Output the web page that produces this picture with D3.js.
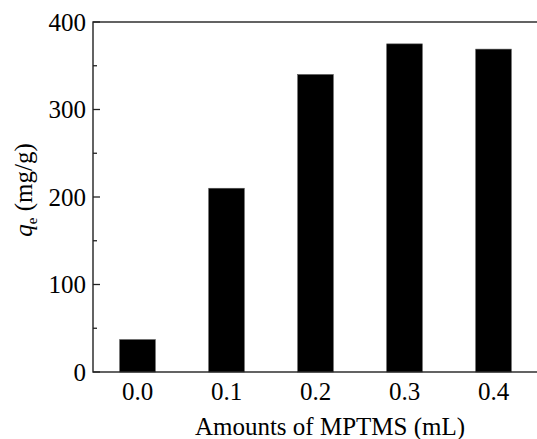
<!DOCTYPE html>
<html>
<head>
<meta charset="utf-8">
<script src="https://cdn.jsdelivr.net/npm/d3@7"></script>
<style>
  body { margin: 0; background: #fff; }
  svg { display: block; }
  text { font-family: "Liberation Serif", "Times New Roman", serif; fill: #000; }
</style>
</head>
<body>
<div id="chart"></div>
<script>
// data
var amounts = [0.0, 0.1, 0.2, 0.3, 0.4];
var qe = [37, 210, 340, 375, 369];
var xTicks = [0.0, 0.1, 0.2, 0.3, 0.4];
var yTicks = [0, 100, 200, 300, 400];
var yMinor = [50, 150, 250, 350];

var W = 537, H = 439;
var margin = {top: 22, left: 93, bottom: 67};
var plotW = 445, plotH = H - margin.top - margin.bottom;

var svg = d3.select("#chart").append("svg")
    .attr("width", W)
    .attr("height", H);

var g = svg.append("g")
    .attr("transform", "translate(" + margin.left + "," + margin.top + ")");

var x = d3.scaleLinear().domain([-0.05, 0.45]).range([0, plotW]);
var y = d3.scaleLinear().domain([0, 400]).range([plotH, 0]);
var barW = x(0.04) - x(0);

// bars
g.selectAll("rect.bar")
    .data(amounts)
    .enter().append("rect")
    .attr("class", "bar")
    .attr("x", function(d) { return x(d) - barW / 2; })
    .attr("width", barW)
    .attr("y", function(d, i) { return y(qe[i]); })
    .attr("height", function(d, i) { return plotH - y(qe[i]); })
    .attr("fill", "#000")
    .attr("stroke", "#555")
    .attr("stroke-width", 0.6);

// frame (right side falls just outside the picture)
g.append("rect")
    .attr("x", 0).attr("y", 0)
    .attr("width", plotW).attr("height", plotH)
    .attr("fill", "none")
    .attr("stroke", "#222")
    .attr("stroke-width", 1.4);

// y axis ticks (inward)
g.selectAll("line.ymaj")
    .data(yTicks)
    .enter().append("line")
    .attr("x1", 0).attr("x2", 7)
    .attr("y1", function(d) { return y(d); })
    .attr("y2", function(d) { return y(d); })
    .attr("stroke", "#222").attr("stroke-width", 1.3);

g.selectAll("line.ymin")
    .data(yMinor)
    .enter().append("line")
    .attr("x1", 0).attr("x2", 4)
    .attr("y1", function(d) { return y(d); })
    .attr("y2", function(d) { return y(d); })
    .attr("stroke", "#222").attr("stroke-width", 1.3);

g.selectAll("text.ylab")
    .data(yTicks)
    .enter().append("text")
    .attr("x", -7)
    .attr("y", function(d) { return y(d); })
    .attr("dy", "0.34em")
    .attr("text-anchor", "end")
    .style("font-size", "25px")
    .text(function(d) { return d; });

g.selectAll("text.xlab")
    .data(xTicks)
    .enter().append("text")
    .attr("x", function(d) { return x(d); })
    .attr("y", plotH + 28)
    .attr("text-anchor", "middle")
    .style("font-size", "25px")
    .text(function(d) { return d3.format(".1f")(d); });

// axis titles
svg.append("text")
    .attr("x", 330)
    .attr("y", 435)
    .attr("text-anchor", "middle")
    .style("font-size", "25px")
    .text("Amounts of MPTMS (mL)");

var yt = svg.append("text")
    .attr("transform", "translate(32,190) rotate(-90)")
    .attr("text-anchor", "middle")
    .style("font-size", "25px");
yt.append("tspan").style("font-style", "italic").text("q");
yt.append("tspan").attr("dy", 5).style("font-size", "15px").text("e");
yt.append("tspan").attr("dy", -5).text("  (mg/g)");
</script>
</body>
</html>
